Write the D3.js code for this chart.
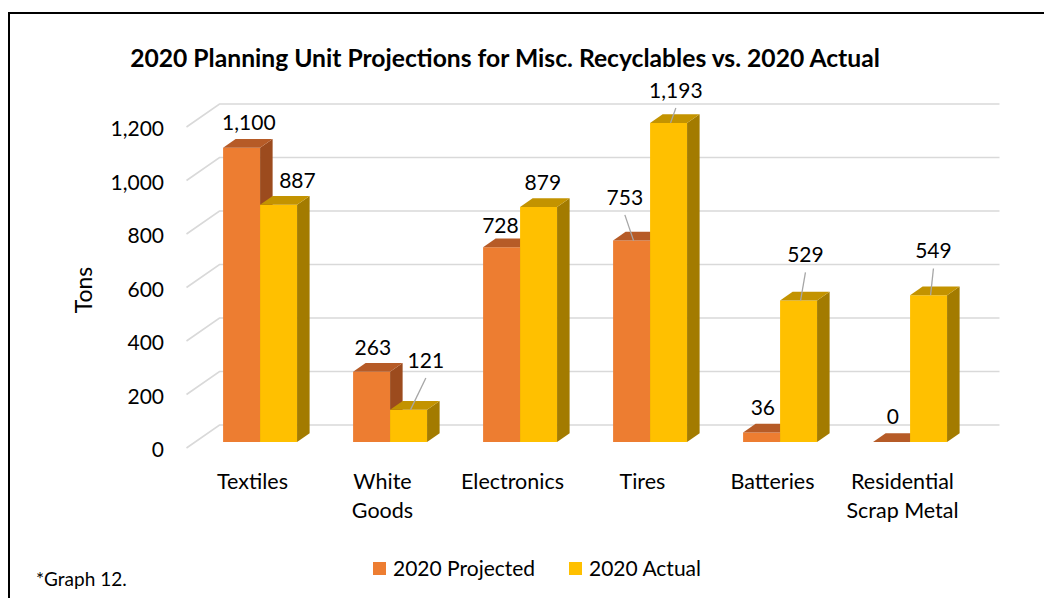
<!DOCTYPE html>
<html>
<head>
<meta charset="utf-8">
<script src="https://cdn.jsdelivr.net/npm/d3@7"></script>
<style>
  body { margin: 0; background: #fff; }
  svg { display: block; }
  text { font-family: Lato, "Open Sans", sans-serif; fill: #000; }
</style>
</head>
<body>
<svg id="chart" width="1044" height="598"></svg>
<script>
// ---- data ----
const categories = ["Textiles", "White Goods", "Electronics", "Tires", "Batteries", "Residential Scrap Metal"];
const seriesNames = ["2020 Projected", "2020 Actual"];
const projected = [1100, 263, 728, 753, 36, 0];
const actual = [887, 121, 879, 1193, 529, 549];
const yTicks = [0, 200, 400, 600, 800, 1000, 1200];

// label placement nudges [dx, dy] from the top face of each bar
const projectedLabelNudge = [[1, -16], [-5, -15.5], [-7.4, -13], [-13, -34.5], [-5, -16], [-5, -17]];
const actualLabelNudge = [[12.6, -15.5], [11, -40.5], [-2, -15.7], [1, -23.7], [0.6, -37], [-1.4, -35.4]];

// ---- styling ----
const colors = {
  "2020 Projected": { front: "#ED7D31", top: "#B65B27", side: "#9C4B1E" },
  "2020 Actual":    { front: "#FFC000", top: "#C39300", side: "#A37B00" }
};

const svg = d3.select("#chart");

// oblique 3D projection: depth 0 = front of floor, depth 1 = back wall
const DX = 33, DZ = 23;
const frontLeft = 186.5, frontRight = 966.5;
const yScale = d3.scaleLinear().domain([0, 1200]).range([425, 104]); // back wall
const yFront = d3.scaleLinear().domain([0, 1200]).range([425 + DZ, 104 + DZ]);
const P = (x, v, f) => [x + f * DX, yScale(v) + (1 - f) * DZ];

const x0 = d3.scaleBand().domain(categories).range([frontLeft, frontRight]);
const x1 = d3.scaleBand().domain(seriesNames).range([0, x0.bandwidth()])
  .paddingInner(0).paddingOuter(0.757);
const barFront = 0.26, barBack = 0.64;

const poly = pts => "M" + pts.map(p => p[0].toFixed(2) + "," + p[1].toFixed(2)).join("L") + "Z";

// chart border
svg.append("rect")
  .attr("x", 9).attr("y", 13).attr("width", 1200).attr("height", 800)
  .attr("fill", "none").attr("stroke", "#000").attr("stroke-width", 2);

// title, sized to span its line
const title = svg.append("text")
  .attr("x", 505).attr("y", 67)
  .attr("text-anchor", "middle")
  .style("font-weight", "bold")
  .style("font-size", "23px")
  .text("2020 Planning Unit Projections for Misc. Recyclables vs. 2020 Actual");
const titleLen = title.node().getComputedTextLength();
title.style("font-size", Math.min(26, 23 * 750 / titleLen).toFixed(2) + "px");

// gridlines: side wall diagonal + back wall line
const grid = svg.append("g").attr("fill", "none").attr("stroke", "#D9D9D9").attr("stroke-width", 1.6);
yTicks.forEach(t => {
  grid.append("path").attr("d", d3.line()([P(frontLeft, t, 0), P(frontLeft, t, 1), P(frontRight, t, 1)]));
});

// value axis labels
const yAxis = d3.axisLeft(yFront).tickValues(yTicks).tickFormat(d3.format(",")).tickSize(0).tickPadding(0);
const gy = svg.append("g").attr("transform", "translate(164,2)").call(yAxis);
gy.select(".domain").remove();
gy.selectAll("text").style("font-size", "21px").style("font-family", "Lato, 'Open Sans', sans-serif").attr("fill", "#000");

// axis title
svg.append("text")
  .attr("transform", "translate(92,290) rotate(-90)")
  .attr("text-anchor", "middle")
  .style("font-size", "23px")
  .text("Tons");

// bars
const seriesValues = { "2020 Projected": projected, "2020 Actual": actual };
const seriesNudges = { "2020 Projected": projectedLabelNudge, "2020 Actual": actualLabelNudge };
const bars = svg.append("g");
const labels = svg.append("g");

categories.forEach((cat, i) => {
  seriesNames.forEach(s => {
    const v = seriesValues[s][i];
    const xl = x0(cat) + x1(s), xr = xl + x1.bandwidth();
    const c = colors[s];
    const g = bars.append("g");
    g.append("path").attr("fill", c.front)
      .attr("d", poly([P(xl, 0, barFront), P(xr, 0, barFront), P(xr, v, barFront), P(xl, v, barFront)]));
    g.append("path").attr("fill", c.side)
      .attr("d", poly([P(xr, 0, barFront), P(xr, 0, barBack), P(xr, v, barBack), P(xr, v, barFront)]));
    g.append("path").attr("fill", c.top)
      .attr("d", poly([P(xl, v, barFront), P(xr, v, barFront), P(xr, v, barBack), P(xl, v, barBack)]));

    // data label
    const [ndx, ndy] = seriesNudges[s][i];
    const topCx = (xl + xr) / 2 + (barFront + barBack) / 2 * DX;
    const backTop = P(xl, v, barBack)[1];
    const lx = topCx + ndx, ly = backTop + ndy;
    if (ndy < -20) {
      const frontTop = P(xl, v, barFront);
      labels.append("line")
        .attr("x1", lx).attr("y1", ly + 17.5)
        .attr("x2", (xl + xr) / 2 + barFront * DX + 2).attr("y2", frontTop[1])
        .attr("stroke", "#A6A6A6").attr("stroke-width", 1.3);
    }
    labels.append("text")
      .attr("x", lx).attr("y", ly).attr("dy", "0.35em")
      .attr("text-anchor", "middle")
      .style("font-size", "21px")
      .text(d3.format(",")(v));
  });
});

// category labels, wrapped to fit
const catG = svg.append("g");
categories.forEach(cat => {
  const cx = x0(cat) + x0.bandwidth() / 2 + 1;
  const t = catG.append("text").attr("text-anchor", "middle").style("font-size", "21.5px");
  const words = cat.split(" ");
  const lines = [];
  let line = [];
  words.forEach(w => {
    line.push(w);
    t.text(line.join(" "));
    if (t.node().getComputedTextLength() > 114 && line.length > 1) {
      line.pop();
      lines.push(line.join(" "));
      line = [w];
    }
  });
  lines.push(line.join(" "));
  t.text(null);
  lines.forEach((l, k) => {
    t.append("tspan").attr("x", cx).attr("y", 481 + k * 29).attr("dy", "0.35em").text(l);
  });
});

// legend
const legendX = [373, 569];
const lg = svg.append("g");
seriesNames.forEach((s, k) => {
  lg.append("rect").attr("x", legendX[k]).attr("y", 562).attr("width", 13).attr("height", 13)
    .attr("fill", colors[s].front);
  lg.append("text").attr("x", legendX[k] + 20).attr("y", 568.5).attr("dy", "0.35em")
    .style("font-size", "21px").text(s);
});

// footnote
svg.append("text").attr("x", 36).attr("y", 579).attr("dy", "0.35em")
  .style("font-size", "19px").text("*Graph 12.");
</script>
</body>
</html>
